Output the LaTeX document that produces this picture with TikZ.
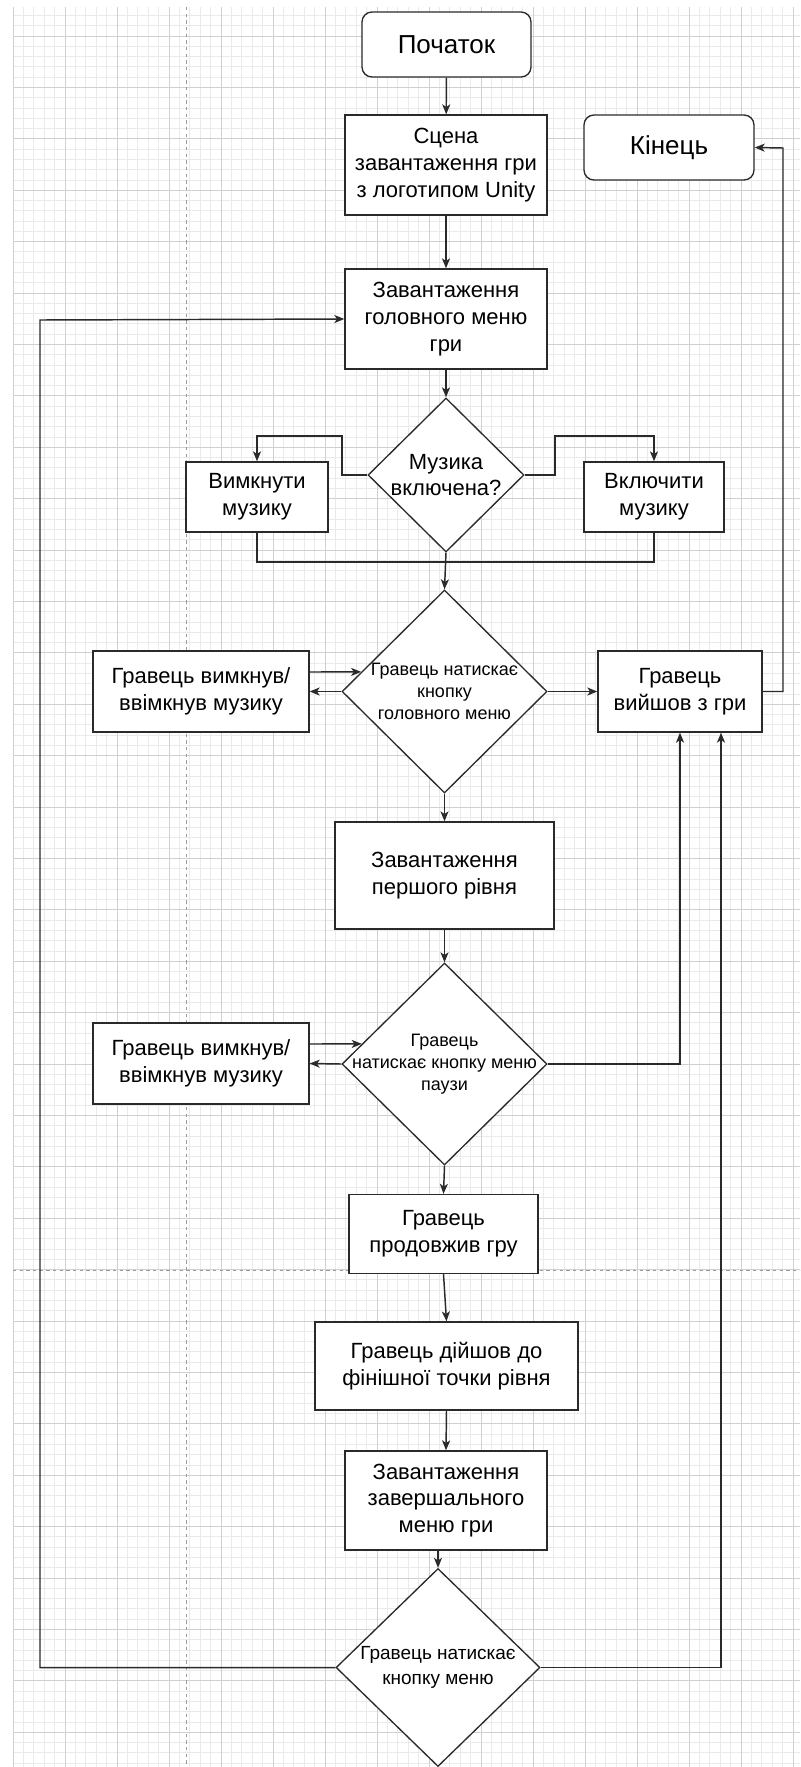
\documentclass[tikz,border=0pt]{standalone}
\usepackage{fontspec}
\setmainfont{Liberation Sans}
\usetikzlibrary{shapes.geometric,arrows.meta,calc}
\definecolor{gmin}{HTML}{EAEAEA}
\definecolor{gmaj}{HTML}{D0D0D0}
\definecolor{pgbrk}{HTML}{9A9A9A}
\definecolor{edge}{HTML}{2A2A2A}
\begin{document}
\begin{tikzpicture}[x=0.75pt,y=-0.75pt,
  gminor/.style={draw=gmin, line width=0.6pt},
  gmajor/.style={draw=gmaj, line width=0.75pt},
  pagebreak/.style={draw=pgbrk, line width=0.7pt, dash pattern=on 2.5pt off 2.5pt},
  sz/.style 2 args={minimum width=#1*0.75pt, minimum height=#2*0.75pt},
  box/.style={draw=edge, line width=1pt, fill=white, rectangle, inner sep=0pt, align=center, text=black, font=\fontsize{16.5}{20}\selectfont},
  rbox/.style={box, rounded corners=7.5pt, font=\fontsize{19.5}{23}\selectfont},
  dia/.style={draw=edge, line width=1pt, fill=white, diamond, inner sep=0pt},
  dtxtA/.style={inner sep=0pt, align=center, text=black, font=\fontsize{16.5}{20}\selectfont},
  dtxtB/.style={inner sep=0pt, align=center, text=black, font=\fontsize{13.5}{16.5}\selectfont},
  dtxtC/.style={inner sep=0pt, align=center, text=black, font=\fontsize{14.25}{18.75}\selectfont},
  line/.style={draw=edge, line width=1.1pt},
  arr/.style={line, -{Stealth[length=7.5pt, width=6pt, inset=2pt]}}
]
\useasboundingbox (0,0) rectangle (800,1767);
\fill[white] (0,0) rectangle (800,1767);
% grid
\begin{scope}
\clip (13,7) rectangle (800,1767);
\foreach \i in {0,...,76} \draw[gminor] ({13+10.4*\i},7) -- ({13+10.4*\i},1767);
\foreach \j in {-3,...,170} \draw[gminor] (13,{36+10.28*\j}) -- (800,{36+10.28*\j});
\foreach \i in {0,...,15} \draw[gmajor] ({13+52*\i},7) -- ({13+52*\i},1767);
\foreach \j in {-1,...,34} \draw[gmajor] (13,{36+51.4*\j}) -- (800,{36+51.4*\j});
\draw[pagebreak] (186,7) -- (186,1767);
\draw[pagebreak] (13,1270) -- (800,1270);
\end{scope}

% nodes
\node[rbox, sz={169}{65}] (start) at (446.5,44.5) {Початок};
\node[box, sz={202}{100}] (scene) at (446,165) {Сцена\\завантаження гри\\з логотипом Unity};
\node[rbox, sz={170}{65}] (fin) at (669,147.5) {Кінець};
\node[box, sz={202}{100}] (menu) at (446,319) {Завантаження\\головного меню\\гри};
\node[dia, sz={156}{154}] (mus) at (446,475) {};
\node[dtxtA] (mustxt) at (mus) {Музика\\включена?};
\node[box, sz={142}{70}] (off) at (257,497) {Вимкнути\\музику};
\node[box, sz={140}{70}] (on) at (654,497) {Включити\\музику};
\node[dia, sz={205}{203}] (dmain) at (444.5,691.5) {};
\node[dtxtB] (dmaintxt) at (dmain) {Гравець натискає\\кнопку\\головного меню};
\node[box, sz={216}{81}] (tog1) at (201,691.5) {Гравець вимкнув/\\ввімкнув музику};
\node[box, sz={164}{81}] (quit) at (680,691.5) {Гравець\\вийшов з гри};
\node[box, sz={219}{107}] (lvl) at (444.5,875.5) {Завантаження\\першого рівня};
\node[dia, sz={205}{202}] (dpause) at (444.5,1064) {};
\node[dtxtB] (dpausetxt) at (dpause) {Гравець\\натискає кнопку меню\\паузи};
\node[box, sz={216}{81}] (tog2) at (201,1063.5) {Гравець вимкнув/\\ввімкнув музику};
\node[box, sz={189}{79}] (cont) at (443.5,1234) {Гравець\\продовжив гру};
\node[box, sz={263}{88}] (goal) at (446.5,1366) {Гравець дійшов до\\фінішної точки рівня};
\node[box, sz={202}{99}] (endmenu) at (446,1500.5) {Завантаження\\завершального\\меню гри};
\node[dia, sz={204}{198}] (dend) at (438,1667.5) {};
\node[dtxtC] (dendtxt) at (dend) {Гравець натискає\\кнопку меню};

% helper coordinates
\coordinate (cl) at (342,436);
\coordinate (cr) at (555,436);
\coordinate (join) at (446,562);
\coordinate (cq) at (783,148);
\coordinate (cback) at (40,320);

% connectors
\draw[arr] (start) -- (scene);
\draw[arr] (scene) -- (menu);
\draw[arr] (menu) -- (mus);
\draw[arr] (mus.west) -| (cl) -| (off.north);
\draw[arr] (mus.east) -| (cr) -| (on.north);
\draw[line] (off.south) |- (join) -| (on.south);
\draw[arr] (mus.south) -- (dmain.north);

\draw[arr] (tog1.east |- 0,672) -- ($(dmain.west)!0.192!(dmain.north)$);
\draw[arr] (dmain.west) -- (tog1.east);
\draw[arr] (dmain.east) -- (quit.west);
\draw[arr] (quit.east) -| (cq) -- (fin.east);
\draw[arr] (dmain.south) -- (lvl.north);
\draw[arr] (lvl.south) -- (dpause.north);

\draw[arr] (tog2.east |- 0,1044) -- ($(dpause.west)!0.198!(dpause.north)$);
\draw[arr] (dpause.west) -- (tog2.east);
\draw[arr] (dpause.east) -| (quit.south);
\draw[arr] (dpause.south) -- (cont.north);
\draw[arr] (cont.south) -- (goal.north);
\draw[arr] (goal.south) -- (endmenu.north);
\draw[arr] (endmenu.south -| dend.north) -- (dend.north);
\draw[arr] (dend.west) -| (cback) -- (menu.west);
\draw[arr] (dend.east) -| ($(quit.south)+(41,0)$);
\end{tikzpicture}
\end{document}
